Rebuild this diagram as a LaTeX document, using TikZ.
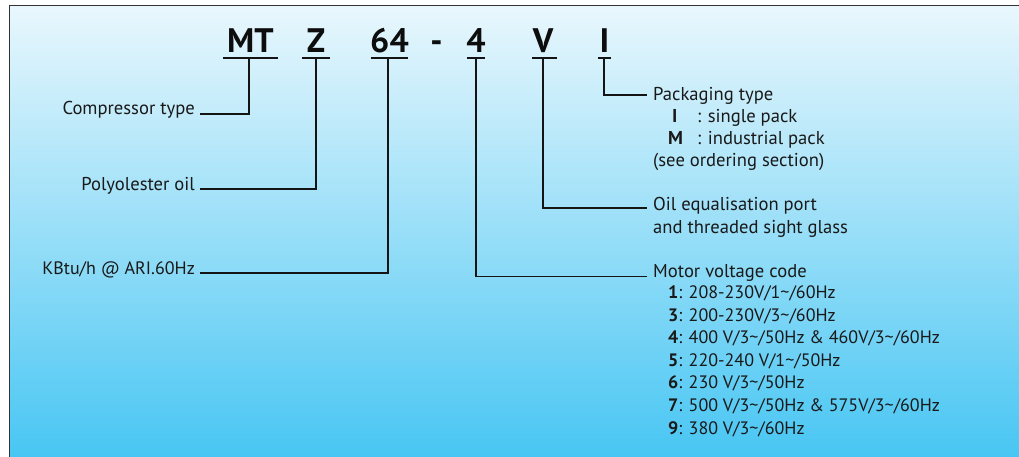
\documentclass[tikz,border=0pt]{standalone}
\usepackage{fontspec}
\setmainfont{PT Sans}
\newcommand{\tld}{\textasciitilde}
\begin{document}
\begin{tikzpicture}[x=1pt,y=-1pt,
  conn/.style={line width=1.8pt, draw=black!92},
  uline/.style={line width=2pt, draw=black!92},
  lbl/.style={inner sep=0pt, font=\fontsize{18.6}{20}\selectfont, text=black!90},
  item/.style={lbl, font=\fontsize{18}{20}\selectfont},
  code/.style={inner sep=0pt, anchor=base, font=\fontsize{34}{34}\selectfont\bfseries, text=black!95},
]
\useasboundingbox (0,0) rectangle (1019,457);
\shade[top color={rgb,255:red,233;green,247;blue,253},
       middle color={rgb,255:red,165;green,222;blue,248},
       bottom color={rgb,255:red,72;green,198;blue,243}]
  (9.5,5.5) rectangle (1019,457);
\draw[line width=1.2pt, draw=black!80] (9.5,457) -- (9.5,5.5) -- (1019,5.5);

% code letters
\node[code] (mt) at (250.5,53) {MT};
\node[code] (z)  at (316,53) {Z};
\node[code] (n64) at (389.5,53) {64};
\node[code] (dash) at (436.5,53) {-};
\node[code] (n4) at (476,53) {4};
\node[code] (v)  at (543,53) {V};
\node[code] (i)  at (604.5,53) {I};

% underlines
\draw[uline] (223,58) -- (278,58);
\draw[uline] (302,58) -- (330,58);
\draw[uline] (371,58) -- (408,58);
\draw[uline] (467,58) -- (485,58);
\draw[uline] (532,58) -- (557,58);
\draw[uline] (598,58) -- (611,58);

\coordinate (umt) at (249,58);
\coordinate (uz) at (316,58);
\coordinate (u64) at (388,58);
\coordinate (u4) at (476,58);
\coordinate (uv) at (543,58);
\coordinate (ui) at (604,58);

% left labels
\node[lbl, anchor=base east] (ct) at (195,115) {Compressor type};
\node[lbl, anchor=base east] (po) at (195,190) {Polyolester oil};
\node[item, anchor=base east] (kb) at (195,274) {KBtu/h @ ARI.60Hz};

\draw[conn] ([xshift=5pt,yshift=1pt]ct.base east) -| (umt);
\draw[conn] ([xshift=5pt,yshift=1pt]po.base east) -| (uz);
\draw[conn] ([xshift=5pt,yshift=1pt]kb.base east) -| (u64);

% right labels
\node[lbl, anchor=base west] (pack) at (653,101) {Packaging type};
\node[lbl, anchor=base west] (pI) at (672,123) {\bfseries I};
\node[lbl, anchor=base west] (pIt) at (697,123) {: single pack};
\node[lbl, anchor=base west] (pM) at (668,145) {\bfseries M};
\node[lbl, anchor=base west] (pMt) at (697,145) {: industrial pack};
\node[lbl, anchor=base west] (pse) at (653,167) {(see ordering section)};

\node[lbl, anchor=base west] (oil) at (653,211) {Oil equalisation port};
\node[lbl, anchor=base west] (oil2) at (653,233) {and threaded sight glass};

\node[lbl, anchor=base west] (mot) at (653,277) {Motor voltage code};
\node[item, anchor=base west] (m1) at (668,298) {\textbf{1}: 208-230V/1\tld/60Hz};
\node[item, anchor=base west] (m3) at (668,321) {\textbf{3}: 200-230V/3\tld/60Hz};
\node[item, anchor=base west] (m4) at (668,343) {\textbf{4}: 400 V/3\tld/50Hz \& 460V/3\tld/60Hz};
\node[item, anchor=base west] (m5) at (668,366) {\textbf{5}: 220-240 V/1\tld/50Hz};
\node[item, anchor=base west] (m6) at (668,388) {\textbf{6}: 230 V/3\tld/50Hz};
\node[item, anchor=base west] (m7) at (668,411) {\textbf{7}: 500 V/3\tld/50Hz \& 575V/3\tld/60Hz};
\node[item, anchor=base west] (m9) at (668,434) {\textbf{9}: 380 V/3\tld/60Hz};

\draw[conn] (ui) |- ([xshift=-6pt,yshift=6pt]pack.base west);
\draw[conn] (uv) |- ([xshift=-6pt,yshift=3pt]oil.base west);
\draw[conn] (u4) |- ([xshift=-6pt,yshift=0.5pt]mot.base west);
\end{tikzpicture}
\end{document}
